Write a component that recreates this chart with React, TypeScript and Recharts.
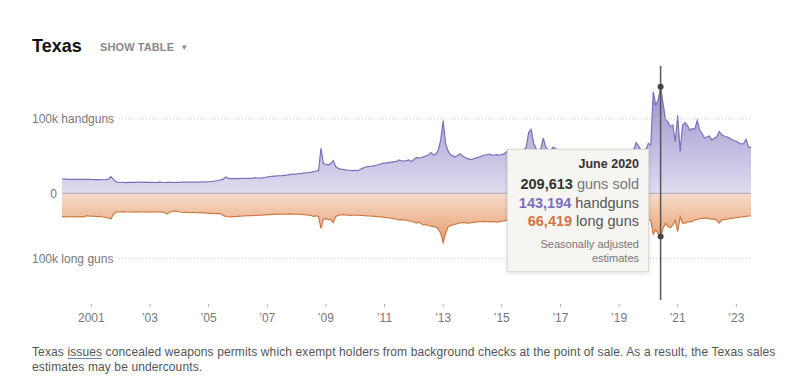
import React from 'react';
import { AreaChart, Area, XAxis, YAxis, ReferenceLine, Tooltip } from 'recharts';

const years = [2000, 2001, 2002, 2003, 2004, 2005, 2006, 2007, 2008, 2009, 2010, 2011, 2012, 2013, 2014, 2015, 2016, 2017, 2018, 2019, 2020, 2021, 2022, 2023];
const monthNames = ['January', 'February', 'March', 'April', 'May', 'June', 'July', 'August', 'September', 'October', 'November', 'December'];

const handguns: number[][] = [
  [19200, 19000, 19100, 18800, 18900, 18700, 18800, 18900, 18700, 18600, 18800, 18900],
  [18600, 18400, 18500, 18300, 18400, 18200, 18500, 19000, 22300, 19000, 15500, 14600],
  [14500, 14600, 14400, 14700, 14800, 14600, 14700, 15000, 14900, 14800, 14900, 14700],
  [14600, 14800, 14500, 14700, 14900, 14600, 14500, 14800, 14700, 14600, 14500, 14700],
  [14800, 14900, 15100, 14900, 15000, 15200, 15000, 14900, 15100, 15300, 15200, 15400],
  [15500, 15800, 16200, 16600, 17200, 18000, 19000, 21900, 20000, 19800, 19700, 19600],
  [19800, 20000, 20200, 19900, 20100, 20000, 20300, 21000, 20600, 20400, 20800, 21200],
  [22000, 22300, 22800, 23200, 23400, 23600, 23800, 24200, 24500, 25000, 25500, 25800],
  [26000, 26500, 26800, 27200, 27500, 28000, 28500, 29200, 30000, 30500, 60500, 40000],
  [39000, 38000, 40000, 43800, 36000, 33600, 32500, 32000, 31500, 31000, 31000, 30500],
  [31000, 30400, 32000, 33500, 35000, 35800, 36000, 36500, 37200, 38000, 39000, 40000],
  [40500, 41000, 41500, 42000, 42500, 43000, 44800, 43500, 43400, 44000, 45000, 42500],
  [45000, 47900, 47500, 48000, 49000, 50500, 51500, 54600, 51500, 52500, 58000, 71600],
  [97600, 67000, 57000, 52000, 50000, 49000, 51000, 53000, 50000, 48000, 46500, 45700],
  [46000, 47000, 48400, 49000, 50500, 51500, 52000, 52800, 51000, 51500, 52000, 51500],
  [52000, 53000, 56000, 55000, 54500, 55000, 56000, 57000, 56000, 58000, 62000, 82000],
  [86000, 68000, 60000, 58000, 60000, 74000, 62000, 58000, 57000, 62000, 60000, 58000],
  [56000, 55000, 55500, 54500, 54000, 54000, 53500, 54000, 53500, 54500, 55000, 54000],
  [54500, 56000, 58000, 55000, 54000, 53500, 53000, 53500, 53000, 53500, 54000, 54500],
  [55000, 55500, 55000, 54500, 55000, 56000, 58000, 68000, 63000, 58000, 59000, 58500],
  [67000, 65000, 136600, 118700, 125000, 143194, 121000, 99500, 96000, 89500, 91800, 69000],
  [105000, 56000, 91800, 95000, 91000, 85000, 87000, 86000, 98000, 85000, 80000, 74000],
  [76000, 77000, 71600, 74000, 76000, 82800, 79000, 77000, 76000, 74500, 72600, 71000],
  [70000, 68000, 66000, 67000, 72600, 62000, 61800],
];

const longGuns: number[][] = [
  [36000, 36200, 35800, 36100, 36400, 36000, 35900, 36200, 36000, 36300, 34500, 35000],
  [35500, 35000, 35800, 35400, 36000, 36500, 37000, 38000, 39500, 33000, 29000, 28800],
  [28500, 28200, 28600, 28800, 28400, 28600, 28900, 28700, 28500, 28800, 29000, 28600],
  [28600, 28400, 28800, 28500, 28700, 28900, 29200, 32000, 29000, 28000, 27200, 27500],
  [28800, 29200, 29500, 29300, 29800, 29600, 29400, 30000, 29700, 29900, 30200, 30500],
  [30500, 30800, 31000, 31200, 31000, 31500, 34000, 35500, 36000, 36200, 36000, 35800],
  [35500, 35200, 35000, 34800, 34600, 34500, 34400, 34200, 34000, 33800, 33500, 33200],
  [33000, 32800, 32500, 32400, 32200, 32000, 32100, 32300, 32000, 31800, 32200, 32000],
  [32000, 32200, 32500, 33000, 33400, 33500, 34000, 36000, 34500, 36000, 53900, 39500],
  [39000, 40500, 40000, 45000, 36000, 34000, 33400, 33000, 33200, 33500, 34000, 33800],
  [33500, 33800, 34000, 34200, 34500, 34800, 35000, 35200, 35500, 35800, 36500, 36000],
  [37000, 37500, 38000, 38500, 39000, 40000, 41000, 40500, 41000, 41500, 42500, 43000],
  [44000, 46000, 44000, 47000, 48800, 48000, 50000, 50500, 51000, 52000, 55000, 61500],
  [76000, 61500, 52000, 49500, 48800, 47500, 46500, 45500, 45000, 45200, 46000, 45500],
  [45000, 44500, 44000, 43800, 43700, 43500, 43700, 44000, 43500, 43700, 44500, 43700],
  [43000, 42500, 41500, 41000, 41500, 42000, 41500, 42000, 42500, 43000, 44000, 46000],
  [45000, 42000, 41000, 40500, 40000, 42000, 40500, 40000, 39500, 40000, 41000, 40000],
  [38500, 38000, 37500, 37000, 37000, 36500, 36500, 36000, 36500, 37000, 37500, 37000],
  [36500, 36000, 36500, 35500, 35000, 35000, 34500, 35000, 34500, 35000, 35500, 35000],
  [35000, 35500, 35000, 34500, 35000, 35500, 36000, 38000, 37500, 38500, 40000, 41000],
  [40000, 42000, 63000, 56000, 62000, 66419, 54000, 46000, 51000, 53000, 49000, 42000],
  [59000, 36000, 46000, 46000, 44000, 44000, 43000, 41000, 40000, 39500, 38500, 38000],
  [38500, 39000, 40000, 39500, 42000, 46000, 41000, 40500, 40000, 39500, 38500, 38000],
  [37500, 37000, 36500, 36000, 35500, 35000, 35000],
];

const xTicks = [2001, 2003, 2005, 2007, 2009, 2011, 2013, 2015, 2017, 2019, 2021, 2023];
const highlighted = { year: 2020, month: 5 };

const data = years.flatMap((y, yi) =>
  handguns[yi].map((h, m) => ({
    t: y + m / 12,
    label: `${monthNames[m]} ${y}`,
    hand: h,
    long: longGuns[yi][m],
  }))
);
const highlightIndex = data.findIndex((d) => d.label === `${monthNames[highlighted.month]} ${highlighted.year}`);

const FONT = '"Liberation Sans", Arial, Helvetica, sans-serif';
const fmt = (n: number) => n.toLocaleString('en-US');
const tickFmt = (v: number) => (v === 2001 ? '2001' : '\u2019' + String(v).slice(2));

const XTick = ({ x, y, payload }: any) => (
  <g>
    <line x1={x} x2={x} y1={y + 4} y2={y + 7} stroke="#b0b0b0" strokeWidth={1} />
    <text x={x} y={y + 22} textAnchor="middle" fontSize={12} fill="#777" fontFamily={FONT}>
      {tickFmt(payload.value)}
    </text>
  </g>
);

const TipBox = ({ active, payload }: any) => {
  if (!active || !payload || !payload.length) return null;
  const d = payload[0].payload;
  return (
    <div
      style={{
        width: 122,
        padding: '6px 9px 6px 9px',
        background: '#f6f5f1',
        border: '1px solid #dcdcdc',
        boxShadow: '0 1px 4px rgba(0,0,0,0.15)',
        textAlign: 'right',
        fontFamily: FONT,
        color: '#333',
      }}
    >
      <div style={{ fontSize: 12.5, fontWeight: 700, lineHeight: '17px', color: '#333' }}>{d.label}</div>
      <div style={{ fontSize: 14.5, lineHeight: '18.5px', marginTop: 2 }}>
        <b style={{ color: '#333' }}>{fmt(d.hand + d.long)}</b>
        <span style={{ color: '#777' }}> guns sold</span>
      </div>
      <div style={{ fontSize: 14.5, lineHeight: '18.5px' }}>
        <b style={{ color: '#7b6fc0' }}>{fmt(d.hand)}</b>
        <span style={{ color: '#555' }}> handguns</span>
      </div>
      <div style={{ fontSize: 14.5, lineHeight: '18.5px' }}>
        <b style={{ color: '#d0773d' }}>{fmt(d.long)}</b>
        <span style={{ color: '#555' }}> long guns</span>
      </div>
      <div style={{ fontSize: 11, lineHeight: '14px', color: '#777', marginTop: 6 }}>
        Seasonally adjusted
        <br />
        estimates
      </div>
    </div>
  );
};

const gridShape = (p: any) => (
  <line x1={119} y1={p.y1} x2={p.x2} y2={p.y2} stroke="#c9c9c9" strokeWidth={1} strokeDasharray="1 2" />
);
const sideLabel = (text: string, x: number, anchor: 'start' | 'end') => (p: any) => (
  <text x={x} y={p.viewBox.y} dy={4.3} textAnchor={anchor} fontSize={12} fill="#777" fontFamily={FONT}>
    {text}
  </text>
);

export default function App() {
  return (
    <div style={{ position: 'absolute', left: 0, top: 0, width: 800, height: 387, background: '#fff', fontFamily: FONT }}>
      <div style={{ position: 'absolute', left: 32, top: 36, fontSize: 18, fontWeight: 700, color: '#121212', lineHeight: '20px' }}>
        Texas
      </div>
      <div style={{ position: 'absolute', left: 100, top: 41, fontSize: 11, fontWeight: 700, color: '#888', lineHeight: '13px', letterSpacing: 0.1 }}>
        SHOW TABLE <span style={{ fontSize: 8, marginLeft: 3, position: 'relative', top: -1 }}>▼</span>
      </div>
      <div style={{ position: 'absolute', left: 0, top: 0 }}>
        <AreaChart width={800} height={340} data={data} margin={{ top: 66, right: 49, bottom: 10, left: 62 }}>
          <defs>
            <linearGradient id="handFill" x1="0" y1="0" x2="0" y2="1">
              <stop offset="0%" stopColor="#9a90cd" />
              <stop offset="100%" stopColor="#dfdcef" />
            </linearGradient>
            <linearGradient id="longFill" x1="0" y1="0" x2="0" y2="1">
              <stop offset="0%" stopColor="#f5dccb" />
              <stop offset="100%" stopColor="#e89d6d" />
            </linearGradient>
          </defs>
          <XAxis
            dataKey="t"
            type="number"
            domain={[2000, 2023.5]}
            ticks={xTicks}
            axisLine={false}
            tickLine={false}
            tickSize={0}
            tickMargin={0}
            height={30}
            tick={<XTick />}
            interval={0}
          />
          <YAxis yAxisId="h" hide type="number" domain={[-143400, 171100]} allowDataOverflow />
          <YAxis yAxisId="l" hide type="number" domain={[-164200, 195800]} allowDataOverflow />
          <ReferenceLine yAxisId="h" y={100000} shape={gridShape} label={sideLabel('100k handguns', 32, 'start')} />
          <ReferenceLine yAxisId="l" y={-100000} shape={gridShape} label={sideLabel('100k long guns', 32, 'start')} />
          <Area
            yAxisId="h"
            type="linear"
            dataKey="hand"
            baseValue={0}
            stroke="#7b70b8"
            strokeWidth={1.2}
            fill="url(#handFill)"
            fillOpacity={1}
            isAnimationActive={false}
            activeDot={{ r: 3, fill: '#444', stroke: 'none' }}
          />
          <Area
            yAxisId="l"
            type="linear"
            dataKey={(d: any) => -d.long}
            name="long"
            baseValue={0}
            stroke="#cf7a43"
            strokeWidth={1.2}
            fill="url(#longFill)"
            fillOpacity={1}
            isAnimationActive={false}
            activeDot={{ r: 3, fill: '#444', stroke: 'none' }}
          />
          <ReferenceLine yAxisId="h" y={0} stroke="#b0a4b8" strokeWidth={1} label={sideLabel('0', 57, 'end')} />
          <Tooltip
            active
            defaultIndex={highlightIndex}
            position={{ x: 507, y: 149 }}
            content={<TipBox />}
            cursor={{ stroke: '#555', strokeWidth: 1.5 }}
            isAnimationActive={false}
            wrapperStyle={{ zIndex: 10, outline: 'none' }}
          />
        </AreaChart>
      </div>
      <p style={{ position: 'absolute', left: 32, top: 345, width: 762, margin: 0, fontSize: 12, lineHeight: '15px', color: '#555', letterSpacing: 0.12 }}>
        {'Texas '}
        <u style={{ textDecorationColor: '#6f86b0', textUnderlineOffset: 2 }}>issues</u>
        {' concealed weapons permits which exempt holders from background checks at the point of sale. As a result, the Texas sales estimates may be undercounts.'}
      </p>
    </div>
  );
}
